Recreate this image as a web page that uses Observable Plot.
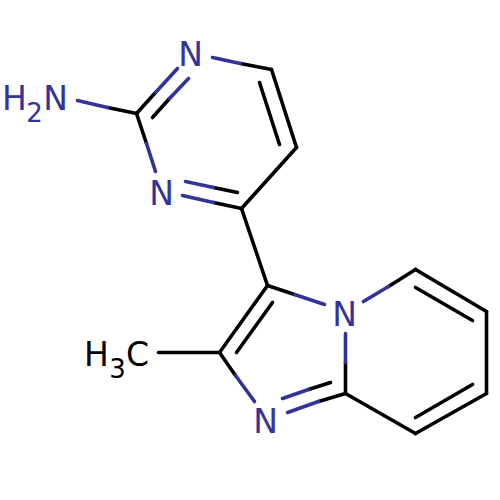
<!DOCTYPE html>
<html><head><meta charset="utf-8">
<style>html,body{margin:0;padding:0;background:#fff}svg{display:block}</style>
<script src="https://cdn.jsdelivr.net/npm/d3@7"></script>
<script src="https://cdn.jsdelivr.net/npm/@observablehq/plot@0.6"></script>
</head><body><div id="c"></div>
<script>
const carbonBonds = [
  [240,63,271,69],[271,69,296,147],[259,82,279,144],[296,147,241,208],
  [241,208,213,202],[237,192,213,187],[136,113,146,143],[136,113,155,92],
  [152,117,169,98],[107,107,136,113],[241,208,267,285],[267,285,294,294],
  [345,362,345,393],[345,393,318,401],[330,382,308,389],[219,352,235,375],
  [219,352,267,285],[236,352,272,302],[158,352,219,352],[388,286,415,269],
  [415,269,486,311],[415,287,472,320],[486,311,486,393],[486,393,415,433],
  [415,417,472,384],[415,433,345,393]
];
const nitrogenBonds = [
  [212,57,240,63],[182,195,213,202],[185,181,213,187],[146,143,155,171],
  [155,92,177,68],[169,98,188,78],[77,100,107,107],[294,294,324,304],
  [345,333,345,362],[318,401,287,412],[308,389,282,398],[235,375,254,401],
  [363,301,388,286]
];
const labelText = ["N","N","H","N","N","N","H","C"];
const labelX =    [190,161,14,55,344,265,96,137];
const labelY =    [53.5,192,97,97,313.5,420,353.5,353.5];
const labelFill = ["#333399","#333399","#333399","#333399","#333399","#333399","#000","#000"];
const subText = ["2","3"];
const subX = [34,117];
const subY = [112,368];
const subFill = ["#333399","#000"];
const idx = d3.range(labelText.length), sidx = d3.range(subText.length);
const bondMark = (data, stroke) => Plot.link(data, {
  x1:d=>d[0], y1:d=>d[1], x2:d=>d[2], y2:d=>d[3], stroke, strokeWidth:3.6, strokeLinecap:"round"
});
const font = "DejaVu Sans";
document.getElementById("c").append(Plot.plot({
  width:500, height:500, margin:0,
  x:{domain:[0,500], range:[0,500], axis:null},
  y:{domain:[0,500], range:[0,500], axis:null},
  style:{background:"#fff"},
  marks:[
    bondMark(carbonBonds,"#000"),
    bondMark(nitrogenBonds,"#333399"),
    Plot.text(idx,{x:i=>labelX[i], y:i=>labelY[i], text:i=>labelText[i], fill:i=>labelFill[i], fontSize:33, fontFamily:font, textAnchor:"middle", lineAnchor:"middle", dy:1.5}),
    Plot.text(sidx,{x:i=>subX[i], y:i=>subY[i], text:i=>subText[i], fill:i=>subFill[i], fontSize:26, fontFamily:font, textAnchor:"middle", lineAnchor:"middle", dy:1})
  ]
}));
</script></body></html>
